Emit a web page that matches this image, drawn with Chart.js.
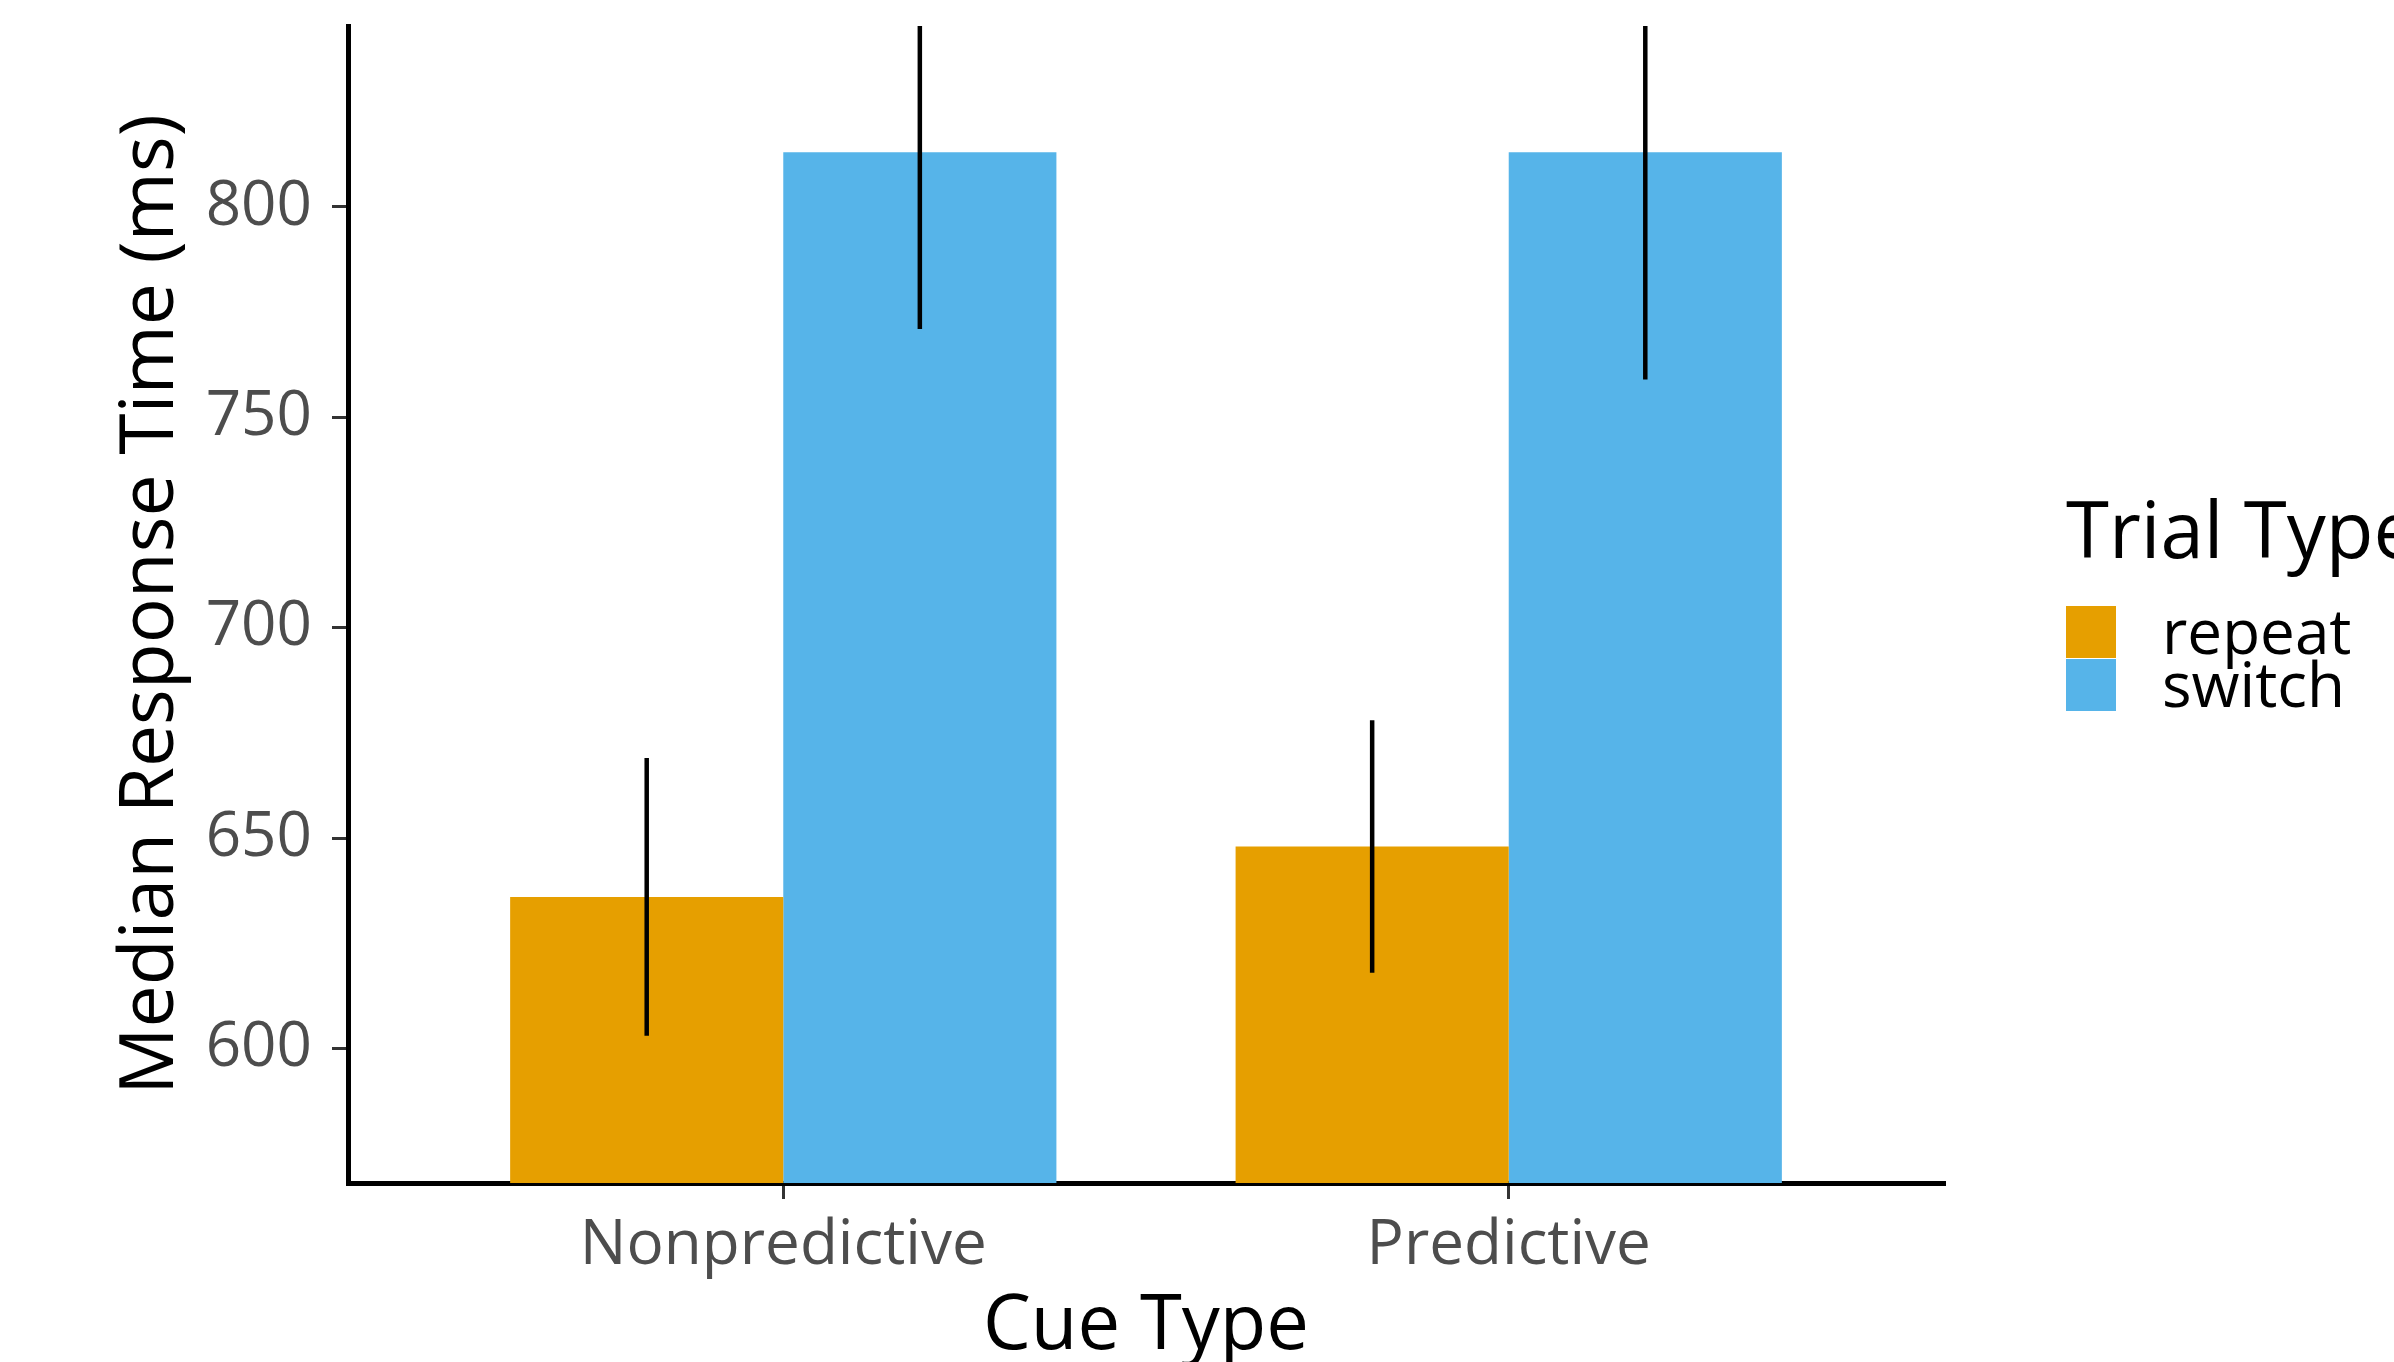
<!DOCTYPE html>
<html>
<head>
<meta charset="utf-8">
<script src="https://cdn.jsdelivr.net/npm/chart.js@4.4.1/dist/chart.umd.min.js"></script>
<style>
  html, body { margin: 0; padding: 0; background: #fff; }
  #wrap { width: 2394px; height: 1362px; position: relative; }
</style>
</head>
<body>
<div id="wrap"><canvas id="chart"></canvas></div>
<script>
const cueTypes = ["Nonpredictive", "Predictive"];
const trialTypes = ["repeat", "switch"];
const repeatMedian = [636, 648];
const switchMedian = [813, 813];
const repeatErr = [33, 30];
const switchErr = [42, 54];
const yTicks = [600, 650, 700, 750, 800];

const colors = ["#E69F00", "#56B4E9"];
const FONT = "'Open Sans', sans-serif";

function toPoints(values, errs) {
  return values.map((v, i) => ({ x: i + 1, y: v, err: errs[i] }));
}

// vertical error lines, no caps (ggplot geom_linerange look)
const errorBars = {
  id: "errorBars",
  afterDatasetsDraw(chart) {
    const { ctx, chartArea, scales } = chart;
    ctx.save();
    ctx.beginPath();
    ctx.rect(chartArea.left, chartArea.top, chartArea.right - chartArea.left, chartArea.bottom - chartArea.top);
    ctx.clip();
    ctx.strokeStyle = "#000";
    ctx.lineWidth = 4.5;
    chart.data.datasets.forEach((ds, di) => {
      const meta = chart.getDatasetMeta(di);
      meta.data.forEach((bar, i) => {
        const p = ds.data[i];
        ctx.beginPath();
        ctx.moveTo(bar.x, scales.y.getPixelForValue(p.y - p.err));
        ctx.lineTo(bar.x, scales.y.getPixelForValue(p.y + p.err));
        ctx.stroke();
      });
    });
    ctx.restore();
  }
};

// axis titles and the legend, placed like the ggplot output
const decorations = {
  id: "decorations",
  afterDraw(chart) {
    const { ctx, chartArea } = chart;
    ctx.save();
    ctx.fillStyle = "#000";

    // y title
    ctx.save();
    ctx.translate(chartArea.left - 196, (chartArea.top + chartArea.bottom) / 2);
    ctx.rotate(-Math.PI / 2);
    ctx.font = "75px " + FONT;
    ctx.textAlign = "center";
    ctx.textBaseline = "middle";
    ctx.fillText("Median Response Time (ms)", 0, 0);
    ctx.restore();

    // x title
    ctx.font = "76px " + FONT;
    ctx.textAlign = "center";
    ctx.textBaseline = "alphabetic";
    ctx.fillText("Cue Type", (chartArea.left + chartArea.right) / 2, chartArea.bottom + 166);

    // legend
    const lx = chartArea.right + 122;
    ctx.textAlign = "left";
    ctx.font = "78px " + FONT;
    ctx.fillText("Trial Type", lx, 558);
    const keyTop = 606, keyH = 53, keyW = 50;
    ctx.font = "62px " + FONT;
    trialTypes.forEach((t, i) => {
      ctx.fillStyle = colors[i];
      ctx.fillRect(lx, keyTop + i * keyH, keyW, keyH - 1);
      ctx.fillStyle = "#000";
      ctx.fillText(t, lx + 96, keyTop + i * keyH + 48);
    });
    ctx.restore();
  }
};

new Chart(document.getElementById("chart"), {
  type: "bar",
  data: {
    datasets: [
      { label: trialTypes[0], data: toPoints(repeatMedian, repeatErr), backgroundColor: colors[0] },
      { label: trialTypes[1], data: toPoints(switchMedian, switchErr), backgroundColor: colors[1] }
    ]
  },
  options: {
    responsive: true,
    maintainAspectRatio: false,
    animation: false,
    layout: { padding: { top: 26, right: 450, left: 0, bottom: 0 } },
    datasets: { bar: { categoryPercentage: 0.753, barPercentage: 1.0 } },
    plugins: {
      legend: { display: false },
      tooltip: { enabled: false }
    },
    scales: {
      x: {
        type: "linear",
        min: 0.4,
        max: 2.6,
        offset: false,
        afterBuildTicks: (s) => { s.ticks = cueTypes.map((c, i) => ({ value: i + 1 })); },
        afterFit: (s) => { s.height = 179; s.paddingLeft = 0; s.paddingRight = 0; },
        ticks: {
          callback: (v) => cueTypes[v - 1],
          color: "#4d4d4d",
          font: { family: FONT, size: 62 },
          padding: 10,
          maxRotation: 0
        },
        grid: { offset: false, drawOnChartArea: false, drawTicks: true, tickLength: 16, color: "#333", lineWidth: 3 },
        border: { display: true, color: "#000", width: 5 }
      },
      y: {
        min: 568,
        max: 843,
        afterBuildTicks: (s) => { s.ticks = yTicks.map((v) => ({ value: v })); },
        afterFit: (s) => { s.width = 348; s.paddingTop = 0; s.paddingBottom = 0; },
        ticks: {
          color: "#4d4d4d",
          font: { family: FONT, size: 62 },
          padding: 20
        },
        grid: { drawOnChartArea: false, drawTicks: true, tickLength: 16, color: "#333", lineWidth: 3 },
        border: { display: true, color: "#000", width: 5 }
      }
    }
  },
  plugins: [errorBars, decorations]
});
</script>
</body>
</html>
